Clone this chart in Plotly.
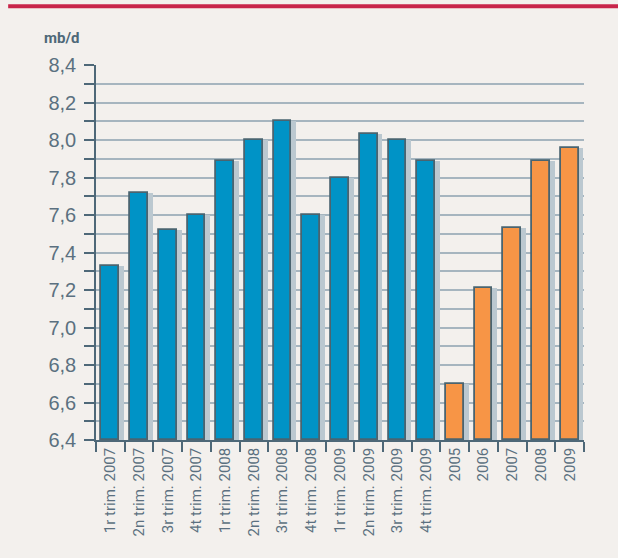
import plotly.graph_objects as go

categories = ["1r trim. 2007", "2n trim. 2007", "3r trim. 2007", "4t trim. 2007",
              "1r trim. 2008", "2n trim. 2008", "3r trim. 2008", "4t trim. 2008",
              "1r trim. 2009", "2n trim. 2009", "3r trim. 2009", "4t trim. 2009",
              "2005", "2006", "2007", "2008", "2009"]
values = [7.33, 7.72, 7.52, 7.60, 7.89, 8.00, 8.10, 7.60, 7.80, 8.03, 8.00, 7.89,
          6.70, 7.21, 7.53, 7.89, 7.96]
n_quarterly = 12
blue = "#0093C6"
orange = "#F79546"
colors = [blue] * n_quarterly + [orange] * (len(values) - n_quarterly)

ymin = 6.4
bar_w = 0.62
shadow_shift = 0.17

fig = go.Figure()
fig.add_trace(go.Bar(
    x=categories, y=[v - ymin for v in values], base=ymin,
    width=bar_w, offset=-bar_w / 2 + shadow_shift,
    marker=dict(color="#BBC8D0", line=dict(width=0)),
    hoverinfo="skip", showlegend=False))
fig.add_trace(go.Bar(
    x=categories, y=[v - ymin for v in values], base=ymin,
    width=bar_w, offset=-bar_w / 2,
    marker=dict(color=colors, line=dict(color="#4A6470", width=1.8)),
    showlegend=False))

axis_col = "#4E6878"
grid_col = "#A6B5BF"
fig.update_layout(
    width=618, height=558,
    margin=dict(l=96, r=34, t=65, b=118),
    paper_bgcolor="#F3F0ED", plot_bgcolor="#F3F0ED",
    barmode="overlay", bargap=0,
    separators=", ",
    font=dict(family="Roboto, sans-serif", color="#5B7080"),
    xaxis=dict(
        type="category", range=[-0.5, len(categories) - 0.5],
        tickangle=-90, tickson="boundaries", ticks="outside", ticklen=10,
        tickcolor=axis_col, tickwidth=1.5,
        showline=True, linecolor=axis_col, linewidth=1.5,
        showgrid=False, automargin=False,
        tickfont=dict(family="Roboto, sans-serif", size=15, color="#5B7080"),
    ),
    yaxis=dict(
        range=[6.4, 8.4], dtick=0.2, tick0=6.4, tickformat=".1f",
        ticks="outside", ticklen=10, tickcolor=axis_col, tickwidth=1.5,
        showline=True, linecolor=axis_col, linewidth=1.5,
        showgrid=True, gridcolor=grid_col, gridwidth=1.5,
        zeroline=False, automargin=False,
        minor=dict(dtick=0.1, ticks="outside", ticklen=10, tickcolor=axis_col,
                   tickwidth=1.5, showgrid=True, gridcolor=grid_col, gridwidth=1.5),
        tickfont=dict(family="Liberation Sans, Arial, sans-serif", size=20, color="#5B7080"),
        ticklabelstandoff=4,
    ),
    shapes=[dict(type="line", xref="paper", yref="paper",
                 x0=-0.18, x1=1.1, y0=1.157, y1=1.157,
                 line=dict(color="#C8254A", width=4))],
    annotations=[dict(text="<b>mb/d</b>", xref="paper", yref="paper",
                      x=(42 - 96) / 488, y=(440 - 38) / 375,
                      xanchor="left", yanchor="middle", showarrow=False,
                      font=dict(family="Roboto, sans-serif",
                                size=15, color="#4E6878"))],
)

fig.write_html("out.html")
